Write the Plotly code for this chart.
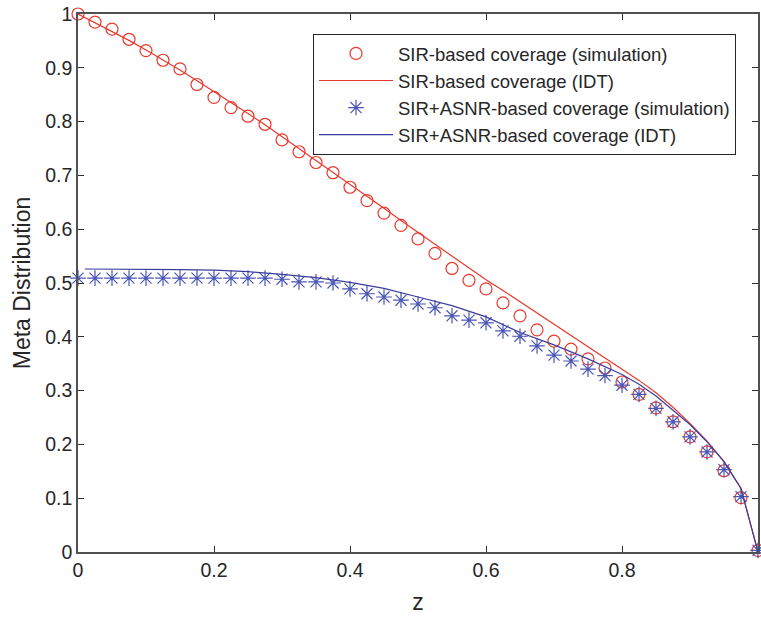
import plotly.graph_objects as go

# simulation grid
z_sim = [i * 0.025 for i in range(41)]

sir_sim = [1.000, 0.985, 0.972, 0.953, 0.932, 0.914, 0.898, 0.869, 0.845, 0.826,
           0.810, 0.795, 0.766, 0.744, 0.724, 0.705, 0.678, 0.653, 0.630, 0.607,
           0.582, 0.555, 0.527, 0.505, 0.489, 0.463, 0.439, 0.413, 0.392, 0.377,
           0.359, 0.342, 0.316, 0.293, 0.268, 0.242, 0.214, 0.186, 0.151, 0.101,
           0.003]

asnr_sim = [0.509, 0.509, 0.509, 0.509, 0.509, 0.509, 0.509, 0.509, 0.509, 0.509,
            0.509, 0.509, 0.507, 0.502, 0.502, 0.500, 0.489, 0.480, 0.474, 0.468,
            0.461, 0.454, 0.439, 0.431, 0.426, 0.411, 0.401, 0.383, 0.366, 0.355,
            0.340, 0.328, 0.310, 0.293, 0.267, 0.242, 0.214, 0.186, 0.153, 0.103,
            0.003]

z_idt = [i * 0.025 for i in range(41)]
sir_idt = [1.000, 0.984, 0.968, 0.951, 0.933, 0.915, 0.896, 0.876, 0.856, 0.836,
           0.815, 0.794, 0.772, 0.750, 0.728, 0.706, 0.684, 0.661, 0.639, 0.616,
           0.594, 0.572, 0.550, 0.528, 0.506, 0.486, 0.465, 0.444, 0.423, 0.403,
           0.382, 0.361, 0.340, 0.319, 0.296, 0.269, 0.239, 0.206, 0.168, 0.118,
           0.000]

z_idt2 = [0.01, 0.05, 0.1, 0.15, 0.2, 0.25, 0.3, 0.35, 0.4, 0.45, 0.5, 0.55, 0.6,
          0.65, 0.7, 0.75, 0.8, 0.825, 0.85, 0.875, 0.9, 0.925, 0.95, 0.975, 1.0]
asnr_idt = [0.526, 0.526, 0.526, 0.525, 0.524, 0.521, 0.516, 0.510, 0.501, 0.490,
            0.474, 0.458, 0.437, 0.408, 0.385, 0.359, 0.330, 0.312, 0.290, 0.264,
            0.237, 0.205, 0.168, 0.118, 0.000]

x_ticks = [0, 0.2, 0.4, 0.6, 0.8, 1]
x_labels = ["0", "0.2", "0.4", "0.6", "0.8", "1"]
y_ticks = [0, 0.1, 0.2, 0.3, 0.4, 0.5, 0.6, 0.7, 0.8, 0.9, 1]
y_labels = ["0", "0.1", "0.2", "0.3", "0.4", "0.5", "0.6", "0.7", "0.8", "0.9", "1"]

RED = "#e8392c"
STAR = "#4a56b4"
BLUE = "#3a3c9c"
INK = "#262626"
FONT = "Liberation Sans, Arial, sans-serif"

fig = go.Figure()
fig.add_trace(go.Scatter(
    x=z_sim, y=sir_sim, mode="markers", name="SIR-based coverage (simulation)",
    cliponaxis=False,
    marker=dict(symbol="circle-open", size=12, color=RED, line=dict(width=1.2, color=RED))))
fig.add_trace(go.Scatter(
    x=z_idt, y=sir_idt, mode="lines", name="SIR-based coverage (IDT)",
    line=dict(color=RED, width=1.2)))
fig.add_trace(go.Scatter(
    x=z_sim, y=asnr_sim, mode="markers", name="SIR+ASNR-based coverage (simulation)",
    cliponaxis=False,
    marker=dict(symbol="asterisk-open", size=13, color=STAR, line=dict(width=1.2, color=STAR))))
fig.add_trace(go.Scatter(
    x=z_idt2, y=asnr_idt, mode="lines", name="SIR+ASNR-based coverage (IDT)",
    line=dict(color=BLUE, width=1.2)))

axis_common = dict(
    showgrid=False, zeroline=False, showline=True, linecolor="#505050", linewidth=1.5,
    mirror="ticks", ticks="inside", ticklen=6, tickcolor="#303030", automargin=False,
    tickfont=dict(family=FONT, size=19.5, color=INK),
)
fig.update_xaxes(range=[0, 1], tickvals=x_ticks, ticktext=x_labels,
                 title=dict(text="z", font=dict(family=FONT, size=23, color=INK), standoff=14),
                 **axis_common)
fig.update_yaxes(range=[0, 1], tickvals=y_ticks, ticktext=y_labels,
                 title=dict(text="Meta Distribution", font=dict(family=FONT, size=23, color=INK), standoff=8),
                 **axis_common)

fig.update_layout(
    width=761, height=618,
    margin=dict(l=78, r=3, t=14, b=66),
    plot_bgcolor="white", paper_bgcolor="white",
    font=dict(family=FONT, size=18.5, color=INK),
    legend=dict(x=0.3456, y=0.963, xanchor="left", yanchor="top",
                bgcolor="white", bordercolor=INK, borderwidth=1,
                font=dict(family=FONT, size=18.5, color=INK),
                itemwidth=74, tracegroupgap=0),
    showlegend=True,
)

fig.write_html("out.html", config={"displayModeBar": False},
               post_script="document.body.style.margin='0px';")
